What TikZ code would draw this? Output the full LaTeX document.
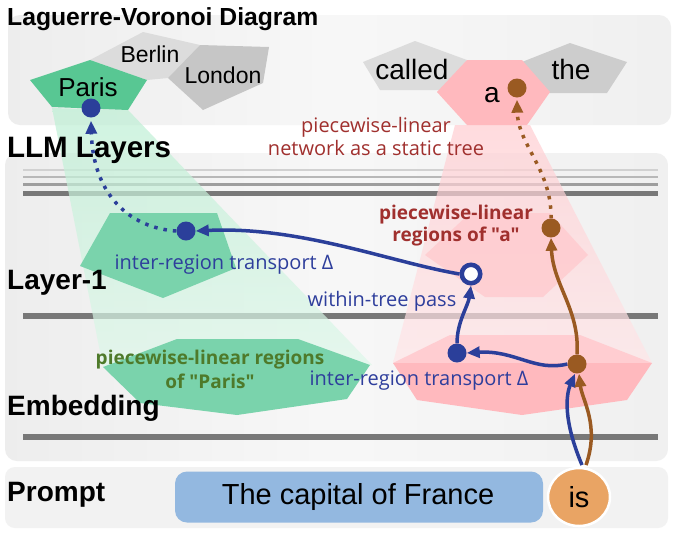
\documentclass[tikz,border=0pt]{standalone}
\usepackage{fontspec}
\setmainfont{Liberation Sans}
\newfontfamily\annot{Open Sans}
\usetikzlibrary{arrows.meta,shapes.geometric}
\definecolor{myblue}{HTML}{2B3F9A}
\definecolor{tblue}{HTML}{2E3E9C}
\definecolor{mybrown}{HTML}{9A5A22}
\definecolor{tred}{HTML}{A0302E}
\definecolor{tgreen}{HTML}{4E7A2A}
\definecolor{layline}{HTML}{787878}
\definecolor{gtop}{HTML}{58C793}
\definecolor{gmid}{HTML}{7AD3AC}
\definecolor{gbeam}{HTML}{BDEFD4}
\definecolor{pinkA}{HTML}{FFB9BE}
\definecolor{pinkB}{HTML}{FFCDD1}
\definecolor{polygray}{HTML}{DCDCDC}
\definecolor{promptblue}{HTML}{93B8E0}
\definecolor{isorange}{HTML}{E9A464}
\begin{document}
\begin{tikzpicture}[x=1pt,y=-1pt,
  panel/.style={rounded corners=12pt, left color=black!7, right color=black!6, middle color=white!97!black},
  lbl/.style={anchor=west, font=\bfseries\fontsize{28}{30}\selectfont, inner sep=0pt},
  word/.style={inner sep=0pt, font=\fontsize{23}{25}\selectfont},
  bigword/.style={inner sep=0pt, font=\fontsize{29}{31}\selectfont},
  bluetxt/.style={inner sep=0pt, text=tblue, font=\annot\fontsize{20}{24}\selectfont},
  redtxt/.style={inner sep=0pt, text=tred, align=center, font=\annot\fontsize{20}{23}\selectfont},
  boldred/.style={inner sep=0pt, text=tred, align=center, font=\annot\bfseries\fontsize{19}{22}\selectfont},
  greentxt/.style={inner sep=0pt, text=tgreen, align=center, font=\annot\bfseries\fontsize{19}{24}\selectfont},
  bdot/.style={circle, fill=myblue, minimum size=19pt, inner sep=0pt},
  brdot/.style={circle, fill=mybrown, minimum size=19pt, inner sep=0pt},
  odot/.style={circle, draw=myblue, line width=4.5pt, fill=white, minimum size=18.5pt, inner sep=0pt},
  barrow/.style={draw=myblue, line width=3.5pt, -{Triangle[length=13pt,width=11pt]}},
  brarrow/.style={draw=mybrown, line width=3.5pt, -{Triangle[length=13pt,width=11pt]}},
  bdotted/.style={barrow, dash pattern=on 3.5pt off 6pt},
  brdotted/.style={brarrow, dash pattern=on 3.5pt off 6pt},
  layerline/.style={line width=6pt, draw=layline}
]
\useasboundingbox (0,0) rectangle (679,539);
\fill[white] (0,0) rectangle (679,539);

% panels
\shade[panel] (8,15) rectangle (671,125);
\shade[panel] (5,153) rectangle (668,461);
\fill[rounded corners=10pt, black!5] (5,467) rectangle (668,528);

% layer lines
\draw[line width=1.5pt, draw=black!18] (23,170) -- (658,170);
\draw[line width=2.5pt, draw=black!28] (23,177) -- (658,177);
\draw[line width=3pt, draw=black!38] (23,184) -- (658,184);
\draw[line width=5pt, draw=layline] (23,193) -- (658,193);
\draw[layerline] (23,316) -- (658,316);
\draw[layerline] (23,437) -- (658,437);

% beams
\shade[top color=gbeam, bottom color=gbeam!50, fill opacity=0.7]
  (52,108) -- (128,110) -- (372,365) -- (103,367) -- cycle;
\shade[top color=pinkB, bottom color=pinkB!50, fill opacity=0.7]
  (455,125) -- (530,125) -- (652,363) -- (393,363) -- cycle;

% top panel polygons
\fill[polygray] (90,60) -- (143,32) -- (200,45) -- (168,78) -- (147,80) -- cycle;
\fill[polygray!90!black] (200,45) -- (269,47) -- (263,83) -- (203,110) -- (168,78) -- cycle;
\fill[gtop] (30,80) -- (90,60) -- (147,80) -- (128,110) -- (52,107) -- cycle;
\fill[polygray] (363,62) -- (415,41) -- (467,60) -- (450,90) -- (380,90) -- cycle;
\fill[polygray!93!black] (522,62) -- (570,43) -- (627,62) -- (607,93) -- (540,93) -- cycle;
\fill[pinkA] (467,60) -- (522,60) -- (550,92) -- (527,125) -- (467,125) -- (437,92) -- cycle;

% layer-1 regions
\fill[gmid] (110,213) -- (217,213) -- (236,268) -- (163,298) -- (80,266) -- cycle;
\fill[pinkB, fill opacity=0.9] (425,255) -- (470,213) -- (550,213) -- (588,255) -- (543,297) -- (485,297) -- cycle;

% embedding regions
\fill[gmid] (177,339) -- (298,339) -- (370,365) -- (347,399) -- (237,415) -- (140,403) -- (103,367) -- cycle;
\fill[pinkB] (393,363) -- (450,335) -- (580,335) -- (652,363) -- cycle;
\fill[pinkA] (393,363) -- (652,363) -- (627,400) -- (522,415) -- (417,400) -- cycle;

% labels
\node[anchor=west, inner sep=0pt, font=\bfseries\fontsize{24.7}{26}\selectfont] (title) at (7,19) {Laguerre-Voronoi Diagram};
\node[lbl, font=\bfseries\fontsize{29.5}{31}\selectfont] (llm) at (7,150) {LLM Layers};
\node[lbl] (l1) at (7,283) {Layer-1};
\node[lbl] (emb) at (7,408) {Embedding};
\node[lbl] (pr) at (7,495) {Prompt};

% words
\node[word] (berlin) at (150,54) {Berlin};
\node[word] (london) at (223,75) {London};
\node[inner sep=0pt, font=\fontsize{26}{28}\selectfont] (paris) at (88,87) {Paris};
\node[inner sep=0pt, font=\fontsize{28}{30}\selectfont] (called) at (412,69) {called};
\node[inner sep=0pt, font=\fontsize{28}{30}\selectfont] (the) at (571,69) {the};
\node[inner sep=0pt, font=\fontsize{28}{30}\selectfont] (a) at (492,95) {a};

% prompt
\node[rounded corners=12pt, fill=promptblue, minimum width=368pt, minimum height=51pt, inner sep=0pt] (prompt) at (359,497) {};
\node[bigword] (prtext) at (358,497) {The capital of France};
\node[ellipse, fill=isorange, draw=white, line width=2.5pt, minimum width=62pt, minimum height=58pt, inner sep=0pt] (is) at (579,497) {};
\node[bigword] (istext) at (579,497) {is};

% annotations
\node[redtxt] (net) at (376,136) {piecewise-linear\\network as a static tree};
\node[boldred] (rega) at (456,226) {piecewise-linear\\regions of "a"};
\node[greentxt] (regp) at (210,369) {piecewise-linear regions\\of "Paris"};
\node[bluetxt] (tr1) at (224,265) {inter-region transport Δ};
\node[bluetxt] (wtp) at (382,301) {within-tree pass};
\node[bluetxt] (tr2) at (419,381) {inter-region transport Δ};

% dots
\node[bdot] (pdot) at (91,108) {};
\node[bdot] (d1) at (186,231) {};
\node[odot] (oc) at (471,274) {};
\node[bdot] (d3) at (457,353) {};
\node[brdot] (b2) at (577,364) {};
\node[brdot] (b1) at (551,228) {};
\node[brdot] (adot) at (517,88) {};
\coordinate (isb) at (582,465);
\coordinate (isr) at (586,465);

% connectors
\draw[bdotted] (d1.west) .. controls (130,228) and (93,195) .. ([yshift=-3pt]pdot.south);
\draw[barrow] (oc.west) .. controls (390,262) and (300,226) .. (d1.east);
\draw[barrow] (d3.north) .. controls (457,322) and (468,306) .. (oc.south);
\draw[barrow] (b2.west) .. controls (535,372) and (515,350) .. (d3.east);
\draw[barrow] (isb) .. controls (563,420) and (566,395) .. ([xshift=-2pt]b2.south);
\draw[brarrow] (isr) .. controls (600,425) and (582,400) .. ([xshift=2pt]b2.south);
\draw[brarrow] (b2.north) .. controls (580,310) and (553,285) .. (b1.south);
\draw[brdotted] (b1.north) .. controls (552,170) and (518,145) .. ([yshift=-2pt]adot.south);
\end{tikzpicture}
\end{document}
